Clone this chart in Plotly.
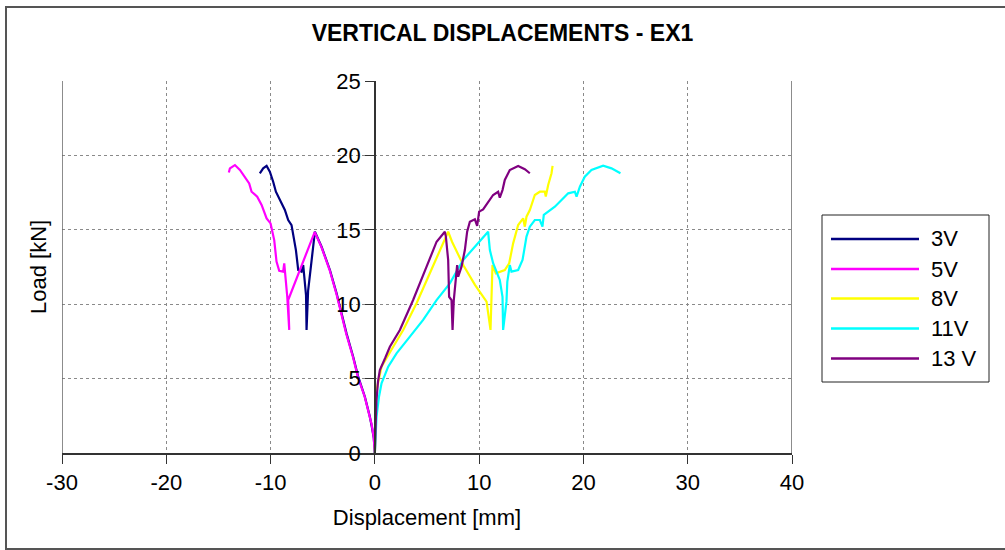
import plotly.graph_objects as go

# ---------------- data ----------------
series_names = ["3V", "5V", "8V", "11V", "13 V"]
series_colors = ["#000080", "#FF00FF", "#FFFF00", "#00FFFF", "#800080"]

x_3v = [0, -0.1, -0.3, -0.48, -0.96, -1.6, -2.08, -2.72, -3.2, -3.67, -4.31, -5.11, -5.75,
        -6.1, -6.4, -6.55, -6.6, -6.87, -7.03, -7.35, -7.57, -7.99, -8.31, -8.63, -9.11,
        -9.49, -9.75, -10.07, -10.38, -10.71, -11.03]
y_3v = [0, 1.0, 1.8, 2.44, 3.78, 5.13, 6.47, 8.04, 9.4, 10.73, 12.3, 13.86, 14.87,
        12.8, 10.9, 8.27, 10.6, 12.63, 12.19, 12.3, 13.64, 15.32, 15.66, 16.33, 17.0,
        17.56, 18.23, 18.9, 19.29, 19.13, 18.8]

x_5v = [0, -0.12, -0.3, -0.5, -0.98, -1.62, -2.1, -2.74, -3.22, -3.69, -4.33, -5.13, -5.77,
        -8.31, -8.21, -8.4, -8.69, -8.79, -9.17, -9.43, -9.65, -10.0, -10.38, -10.61,
        -10.86, -11.28, -11.82, -12.05, -12.46, -12.94, -13.42, -13.9, -14.0]
y_5v = [0, 1.1, 1.9, 2.5, 3.8, 5.1, 6.45, 8.0, 9.35, 10.7, 12.28, 13.85, 14.85,
        10.28, 8.27, 10.5, 12.75, 12.19, 12.25, 12.86, 14.31, 15.43, 15.77, 16.22,
        16.67, 17.23, 17.56, 18.12, 18.57, 19.02, 19.35, 19.13, 18.85]

x_8v = [0, 0.05, 0.16, 0.64, 1.2, 1.76, 2.72, 4.0, 5.27, 6.23, 7.03,
        7.4, 8.5, 9.6, 10.71, 11.09, 11.15, 11.28, 11.6, 12.46, 12.88, 13.26, 13.74,
        14.22, 14.38, 14.54, 14.86, 15.34, 15.82, 16.3, 16.39, 16.62, 16.94, 17.04]
y_8v = [0, 2.0, 4.23, 5.8, 6.5, 7.14, 8.27, 10.06, 12.08, 13.64, 14.87,
        14.2, 12.6, 11.3, 10.17, 8.27, 10.5, 12.63, 12.08, 12.3, 12.75, 14.09, 15.32,
        15.77, 15.21, 15.88, 16.33, 17.34, 17.56, 17.56, 17.23, 18.01, 18.8, 19.29]

x_11v = [0, 0.05, 0.16, 0.4, 0.64, 1.28, 2.08, 3.36, 4.63, 5.92, 7.19, 8.47, 9.75, 10.86,
         11.03, 11.34, 11.98, 12.24, 12.3, 12.62, 12.7, 12.94, 13.1, 13.74, 14.16, 14.54,
         14.86, 15.34, 15.82, 16.07, 16.2, 16.78, 17.26, 17.9, 18.54, 19.18, 19.34, 19.66,
         20.13, 20.77, 21.89, 22.69, 23.55]
y_11v = [0, 1.2, 2.44, 3.8, 4.68, 5.8, 6.7, 7.82, 8.94, 10.28, 11.4, 12.97, 13.98, 14.87,
         13.64, 12.75, 11.63, 10.5, 8.27, 10.17, 11.5, 12.63, 12.19, 12.3, 12.97, 14.54,
         15.21, 15.66, 15.66, 15.21, 16.0, 16.33, 16.55, 17.0, 17.45, 17.56, 17.23, 17.9,
         18.57, 19.02, 19.31, 19.13, 18.8]

x_13v = [0, 0.05, 0.15, 0.3, 0.48, 1.0, 1.44, 2.4, 3.67, 4.96, 5.92, 6.71,
         6.81, 7.03, 7.12, 7.35, 7.45, 7.57, 7.77, 7.89, 7.99, 8.31, 8.63, 8.85, 9.11,
         9.59, 9.81, 10.0, 10.38, 10.86, 11.34, 11.82, 11.98, 12.24, 12.46, 12.94, 13.74,
         14.38, 14.86]
y_13v = [0, 1.5, 3.5, 4.8, 5.58, 6.4, 7.14, 8.27, 10.28, 12.52, 14.2, 14.87,
         14.54, 12.97, 10.5, 10.28, 8.27, 10.28, 11.85, 12.63, 11.85, 12.52, 13.64, 14.87, 15.54,
         15.7, 15.26, 16.22, 16.37, 16.89, 17.34, 17.56, 17.16, 17.67, 18.35, 19.02, 19.29,
         19.07, 18.8]

x_ticks = [-30, -20, -10, 0, 10, 20, 30, 40]
y_ticks = [0, 5, 10, 15, 20, 25]

xs = [x_3v, x_5v, x_8v, x_11v, x_13v]
ys = [y_3v, y_5v, y_8v, y_11v, y_13v]

# ---------------- layout geometry (pixels) ----------------
W, H = 1005, 550
PL, PR, PT, PB = 62, 792, 81, 453   # plot area edges
pw, ph = PR - PL, PB - PT

def px_x(p):
    return (p - PL) / pw

def px_y(p):
    return (PB - p) / ph

FONT = "Arial, Liberation Sans, sans-serif"
FS = 22

fig = go.Figure()
for name, col, xv, yv in zip(series_names, series_colors, xs, ys):
    fig.add_trace(go.Scatter(x=xv, y=yv, mode="lines", name=name,
                             line=dict(color=col, width=2.2), showlegend=False))

xmin, xmax = x_ticks[0], x_ticks[-1]
fig.update_layout(
    width=W, height=H,
    margin=dict(l=PL, r=W - PR, t=PT, b=H - PB),
    paper_bgcolor="white", plot_bgcolor="white",
    title=dict(text="VERTICAL DISPLACEMENTS - EX1", x=0.5, xref="container",
               y=1 - 33 / H, yref="container", xanchor="center", yanchor="middle",
               font=dict(family=FONT, size=23, color="black", weight="bold")),
    xaxis=dict(range=[xmin, xmax], tickvals=x_ticks, ticktext=[str(v) for v in x_ticks],
               ticks="outside", ticklen=9,
               tickcolor="#333", showline=True, linecolor="#333", linewidth=1.5,
               showgrid=True, gridcolor="#8a8a8a", griddash="dot", gridwidth=1,
               zeroline=False, tickfont=dict(family=FONT, size=FS, color="black"),
               title=dict(text="Displacement [mm]", standoff=15,
                          font=dict(family=FONT, size=FS, color="black"))),
    yaxis=dict(range=[y_ticks[0], y_ticks[-1]], tickvals=y_ticks,
               ticktext=[str(v) for v in y_ticks], ticks="outside",
               ticklen=9, tickcolor="#333", anchor="free",
               position=(0 - xmin) / (xmax - xmin),
               showline=True, linecolor="#333", linewidth=1.5,
               showgrid=True, gridcolor="#8a8a8a", griddash="dot", gridwidth=1,
               zeroline=False, tickfont=dict(family=FONT, size=FS, color="black")),
)

shapes = []
# left & right plot borders
for xv in (xmin, xmax):
    shapes.append(dict(type="line", xref="x", yref="paper", x0=xv, x1=xv, y0=0, y1=1,
                       line=dict(color="#666", width=1.5)))
# outer chart frame
shapes.append(dict(type="rect", xref="paper", yref="paper",
                   x0=px_x(6), x1=px_x(1015), y0=px_y(549), y1=px_y(7),
                   line=dict(color="#555", width=2)))
# legend box
shapes.append(dict(type="rect", xref="paper", yref="paper",
                   x0=px_x(822), x1=px_x(989), y0=px_y(382), y1=px_y(215),
                   line=dict(color="#222", width=1), fillcolor="white"))
annotations = [dict(text="Load [kN]", xref="paper", yref="paper", x=px_x(38), y=0.5,
                    textangle=-90, showarrow=False, xanchor="center", yanchor="middle",
                    font=dict(family=FONT, size=FS, color="black"))]
item_y = [239, 269, 298.5, 328.5, 358.5]
for name, col, iy in zip(series_names, series_colors, item_y):
    shapes.append(dict(type="line", xref="paper", yref="paper",
                       x0=px_x(831), x1=px_x(919), y0=px_y(iy), y1=px_y(iy),
                       line=dict(color=col, width=2.5)))
    annotations.append(dict(text=name, xref="paper", yref="paper", x=px_x(929),
                            y=px_y(iy), xanchor="left", yanchor="middle", showarrow=False,
                            font=dict(family=FONT, size=FS, color="black")))
fig.update_layout(shapes=shapes, annotations=annotations)

fig.write_html("out.html")
